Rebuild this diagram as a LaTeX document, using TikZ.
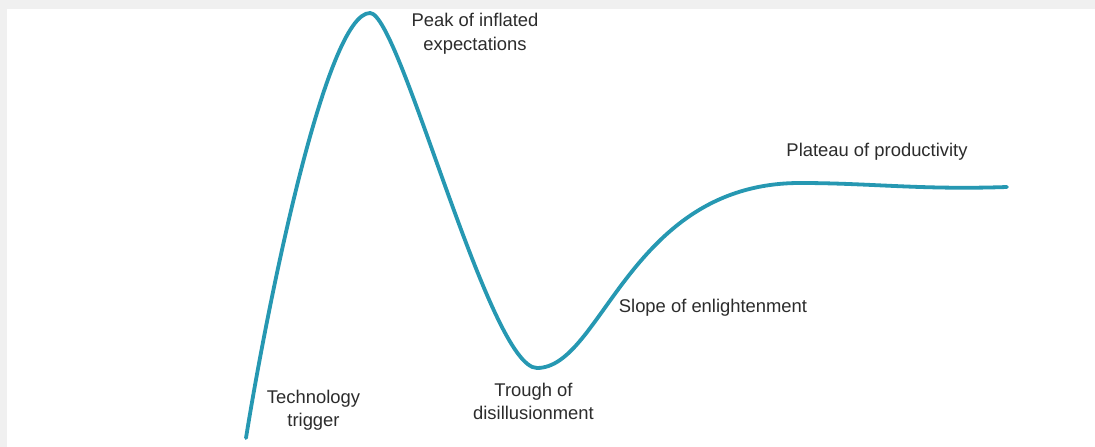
\documentclass[tikz,border=0pt]{standalone}
\usepackage{tikz}
\usetikzlibrary{positioning}
\usepackage{fontspec}
\setmainfont{Liberation Sans}
\usepackage{xcolor}
\definecolor{Canard}{RGB}{38,152,178}
\definecolor{Ardoise}{RGB}{44,44,44}
\definecolor{Cadre}{RGB}{240,240,240}

\begin{document}
\begin{tikzpicture}[x=10pt,y=10pt,
  phase/.style={text=Ardoise, align=center, inner sep=0pt,
    font=\fontsize{18.4}{23.5}\selectfont}]
\fill[Cadre] (0,0) rectangle (109.5,44.7);
\fill[white] (0.7,0) rectangle (109.5,43.8);
\useasboundingbox (0,0) rectangle (109.5,44.7);
%
% hype curve
\coordinate (start) at (24.6,0.9);
\coordinate (top) at (37.0,43.4);
\coordinate (low) at (53.7,7.9);
\coordinate (flat) at (80.0,26.4);
\coordinate (stop) at (100.7,26.0);
\draw[Canard, line width=3.8pt, line cap=round]
  (start) .. controls (26.7,14.0) and (32.6,43.4) .. (top)
          .. controls (40.0,43.4) and (48.9,7.9) .. (low)
          .. controls (60.2,7.9) and (62.9,26.4) .. (flat)
          .. controls (87.0,26.4) and (92.0,25.7) .. (stop);
%
% phases
\node[phase] (peak)    at (47.5,41.35) {Peak of inflated\\expectations};
\node[phase] (trigger) at (31.35,3.7)  {Technology\\trigger};
\node[phase] (trough)  at (53.35,4.55) {Trough of\\disillusionment};
\node[phase] (slope)   at (71.3,13.9)  {Slope of enlightenment};
\node[phase] (plateau) at (87.7,29.5)  {Plateau of productivity};
\end{tikzpicture}
\end{document}
